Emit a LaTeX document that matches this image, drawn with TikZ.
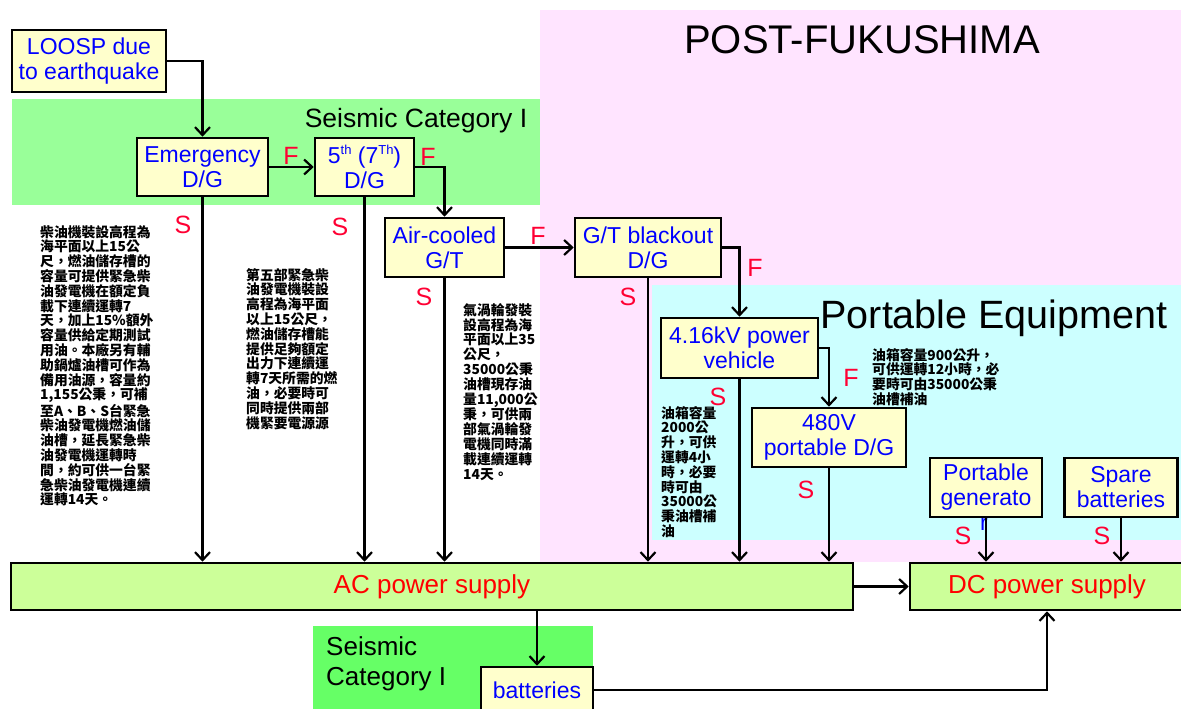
\documentclass[tikz,border=0pt]{standalone}
\usepackage{fontspec}
\setmainfont{Liberation Sans}
\newfontfamily\cjk{Noto Sans CJK TC}
\usepackage{tikz}
\usetikzlibrary{arrows.meta}

\definecolor{postpink}{RGB}{255,228,255}
\definecolor{seisgreen}{RGB}{153,255,153}
\definecolor{seisgreenb}{RGB}{102,255,102}
\definecolor{portcyan}{RGB}{204,255,255}
\definecolor{boxyellow}{RGB}{255,255,204}
\definecolor{supplygreen}{RGB}{204,255,153}
\definecolor{fsred}{RGB}{255,0,51}

\begin{document}
\begin{tikzpicture}[x=1pt,y=-1pt,
	box/.style={draw,line width=2.6pt,fill=boxyellow,text=blue,align=center,inner sep=0pt,font=\fontsize{23}{25}\selectfont},
	supply/.style={draw,line width=2.6pt,fill=supplygreen,text=red,inner sep=0pt,font=\fontsize{26}{28}\selectfont},
	fs/.style={text=fsred,inner sep=0pt,font=\fontsize{25}{27}\selectfont},
	note/.style={anchor=north west,align=left,inner sep=0pt,font=\cjk\bfseries\fontsize{13.8}{14.8}\selectfont},
	conn/.style={line width=2.2pt,-{Straight Barb[length=8pt,width=15pt]}}]
		\useasboundingbox (0,0) rectangle (1181,709);
		% areas
		\fill[postpink] (540,10) rectangle (1181,562);
		\fill[seisgreen] (12,99) rectangle (540,205);
		\fill[portcyan] (652,285) rectangle (1181,540);
		\fill[seisgreenb] (313,626) rectangle (593,709);
		\node[anchor=base,inner sep=0pt,font=\fontsize{40}{42}\selectfont] (post) at (862,54) {POST-FUKUSHIMA};
		\node[anchor=base,inner sep=0pt,font=\fontsize{39.5}{42}\selectfont] (porteq) at (994,328) {Portable Equipment};
		\node[anchor=base,inner sep=0pt,font=\fontsize{26.5}{28}\selectfont] (seis) at (416,128) {Seismic Category I};
		\node[anchor=north west,align=left,inner sep=0pt,font=\fontsize{26}{30}\selectfont] (seisb) at (326,636) {Seismic\\Category I};
		% boxes
		\node[box,minimum width=154,minimum height=62] (loosp) at (89,61) {LOOSP due\\to earthquake};
		\node[box,minimum width=131,minimum height=58] (emdg) at (202.5,167) {Emergency\\D/G};
		\node[box,minimum width=99,minimum height=58] (fifth) at (364.5,167) {5\raisebox{0.42em}{\fontsize{13}{13}\selectfont th} (7\raisebox{0.42em}{\fontsize{13}{13}\selectfont Th})\\D/G};
		\node[box,minimum width=119,minimum height=59] (aircool) at (444.5,247.5) {Air-cooled\\G/T};
		\node[box,minimum width=146,minimum height=59] (gtdg) at (648,247.5) {G/T blackout\\D/G};
		\node[box,minimum width=157,minimum height=60] (pv) at (739.5,348) {4.16kV power\\vehicle};
		\node[box,minimum width=154,minimum height=59] (p480) at (829,437.5) {480V\\portable D/G};
		\node[text=blue,inner sep=0pt,font=\fontsize{23}{25}\selectfont] (pgenr) at (984,524) {r};
		\node[box,minimum width=112,minimum height=59] (pgen) at (986,487.5) {Portable\\generato};
		\node[box,minimum width=113,minimum height=59] (spare) at (1121,487.5) {Spare\\batteries};
		\node[supply,minimum width=842,minimum height=47] (ac) at (432,586.5) {AC power supply};
		\node[supply,minimum width=274,minimum height=47] (dc) at (1047,586.5) {DC power supply};
		\node[box,minimum width=112,minimum height=46] (bat) at (537,690) {batteries};
		% notes
		\node[note] (emnote) at (40,225) {柴油機裝設高程為\\海平面以上15公\\尺，燃油儲存槽的\\容量可提供緊急柴\\油發電機在額定負\\載下連續運轉7\\天，加上15\%額外\\容量供給定期測試\\用油。本廠另有輔\\助鍋爐油槽可作為\\備用油源，容量約\\1,155公秉，可補\\至A、B、S台緊急\\柴油發電機燃油儲\\油槽，延長緊急柴\\油發電機運轉時\\間，約可供一台緊\\急柴油發電機連續\\運轉14天。};
		\node[note] (fifthnote) at (246,268) {第五部緊急柴\\油發電機裝設\\高程為海平面\\以上15公尺，\\燃油儲存槽能\\提供足夠額定\\出力下連續運\\轉7天所需的燃\\油，必要時可\\同時提供兩部\\機緊要電源源};
		\node[note] (gtnote) at (463,303) {氣渦輪發裝\\設高程為海\\平面以上35\\公尺，\\35000公秉\\油槽現存油\\量11,000公\\秉，可供兩\\部氣渦輪發\\電機同時滿\\載連續運轉\\14天。};
		\node[note] (pvnote) at (661,406) {油箱容量\\2000公\\升，可供\\運轉4小\\時，必要\\時可由\\35000公\\秉油槽補\\油};
		\node[note] (p480note) at (872,348) {油箱容量900公升，\\可供運轉12小時，必\\要時可由35000公秉\\油槽補油};
		% F / S
		\node[fs] (f1) at (291,156) {F};
		\node[fs] (f2) at (428,157) {F};
		\node[fs] (f3) at (538,236) {F};
		\node[fs] (f4) at (755,268) {F};
		\node[fs] (f5) at (851,378) {F};
		\node[fs] (s1) at (183,225) {S};
		\node[fs] (s2) at (340,227) {S};
		\node[fs] (s3) at (424,297) {S};
		\node[fs] (s4) at (628,297) {S};
		\node[fs] (s5) at (718,397) {S};
		\node[fs] (s6) at (806,490) {S};
		\node[fs] (s7) at (963,536) {S};
		\node[fs] (s8) at (1102,536) {S};
		% connectors
		\draw[conn] (loosp.east) -| (emdg.north);
		\draw[conn] (emdg.east) -- (fifth.west);
		\draw[conn] (fifth.east) -| (aircool.north);
		\draw[conn] (aircool.east) -- (gtdg.west);
		\draw[conn] (gtdg.east) -| (pv.north);
		\draw[conn] (pv.east) -| (p480.north);
		\foreach \n in {emdg,fifth,aircool,gtdg,pv,p480}
			\draw[conn] (\n.south) -- (\n.south |- ac.north);
		\foreach \n in {pgen,spare}
			\draw[conn] (\n.south) -- (\n.south |- dc.north);
		\draw[conn] (ac.east) -- (dc.west);
		\draw[conn] (ac.south -| bat.north) -- (bat.north);
		\draw[conn] (bat.east) -| (dc.south);
\end{tikzpicture}
\end{document}
